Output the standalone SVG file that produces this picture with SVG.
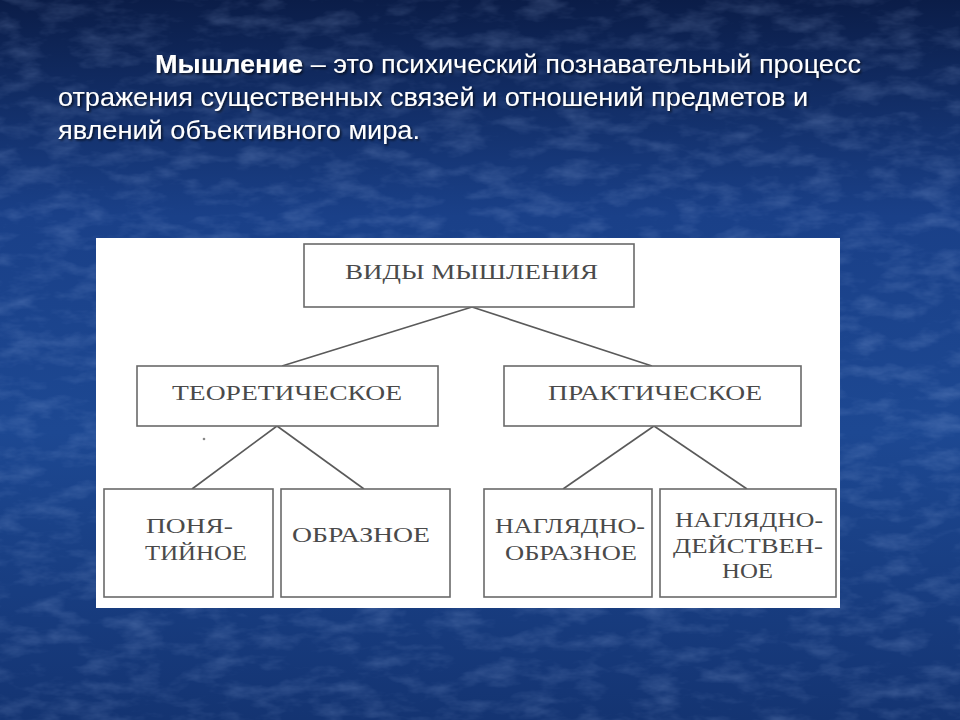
<svg xmlns="http://www.w3.org/2000/svg" width="960" height="720" viewBox="0 0 960 720">
  <defs>
    <linearGradient id="bg" x1="0" y1="0" x2="0" y2="1">
      <stop offset="0" stop-color="#0b1d48"/>
      <stop offset="0.3" stop-color="#1a4088"/>
      <stop offset="0.6" stop-color="#1d4892"/>
      <stop offset="1" stop-color="#143472"/>
    </linearGradient>
    <filter id="tex" x="0" y="0" width="100%" height="100%">
      <feTurbulence type="fractalNoise" baseFrequency="0.025 0.06" numOctaves="4" seed="7" result="n"/>
      <feColorMatrix in="n" type="matrix" values="0 0 0 0 0.5  0 0 0 0 0.65  0 0 0 0 1  0 0 0 1.6 -0.7"/>
    </filter>
    <filter id="sh" x="-5%" y="-30%" width="110%" height="160%">
      <feDropShadow dx="1.5" dy="1.5" stdDeviation="1" flood-color="#000" flood-opacity="0.7"/>
    </filter>
    <style>
      .hd { font-family: "Liberation Sans", Arial, sans-serif; font-size: 25px; fill: #ffffff; }
      .box { fill: #ffffff; stroke: #6a6a6a; stroke-width: 1.6; }
      .lbl { font-family: "Liberation Serif", "Times New Roman", serif; font-size: 22px; fill: #4a4a4a; }
      .con { stroke: #5a5a5a; stroke-width: 1.6; fill: none; }
    </style>
  </defs>

  <rect width="960" height="720" fill="url(#bg)"/>
  <rect width="960" height="720" filter="url(#tex)" opacity="0.25"/>

  <g id="header" filter="url(#sh)">
    <text class="hd" x="155" y="73" textLength="706" lengthAdjust="spacingAndGlyphs"><tspan font-weight="bold">Мышление</tspan> – это психический познавательный процесс</text>
    <text class="hd" x="58" y="106" textLength="750" lengthAdjust="spacingAndGlyphs">отражения существенных связей и отношений предметов и</text>
    <text class="hd" x="58" y="139" textLength="362" lengthAdjust="spacingAndGlyphs">явлений объективного мира.</text>
  </g>

  <rect id="panel" x="96" y="238" width="744" height="370" fill="#ffffff"/>
  <circle cx="204" cy="439" r="1.3" fill="#888"/>

  <g id="connectors" class="con">
    <line x1="472" y1="307" x2="282" y2="366"/>
    <line x1="472" y1="307" x2="652" y2="366"/>
    <line x1="277" y1="426" x2="192" y2="489"/>
    <line x1="277" y1="426" x2="364" y2="489"/>
    <line x1="654" y1="426" x2="563" y2="489"/>
    <line x1="654" y1="426" x2="747" y2="489"/>
  </g>

  <g id="vidy">
    <rect class="box" x="304" y="244" width="330" height="63"/>
    <text class="lbl" x="345" y="279" textLength="253" lengthAdjust="spacingAndGlyphs">ВИДЫ МЫШЛЕНИЯ</text>
  </g>
  <g id="teor">
    <rect class="box" x="137" y="366" width="301" height="60"/>
    <text class="lbl" x="172" y="400" textLength="230" lengthAdjust="spacingAndGlyphs">ТЕОРЕТИЧЕСКОЕ</text>
  </g>
  <g id="prakt">
    <rect class="box" x="504" y="366" width="297" height="60"/>
    <text class="lbl" x="548" y="400" textLength="214" lengthAdjust="spacingAndGlyphs">ПРАКТИЧЕСКОЕ</text>
  </g>
  <g id="ponyat">
    <rect class="box" x="104" y="489" width="169" height="108"/>
    <text class="lbl" x="146" y="533" textLength="87" lengthAdjust="spacingAndGlyphs">ПОНЯ-</text>
    <text class="lbl" x="145" y="560" textLength="102" lengthAdjust="spacingAndGlyphs">ТИЙНОЕ</text>
  </g>
  <g id="obraz">
    <rect class="box" x="281" y="489" width="169" height="108"/>
    <text class="lbl" x="292" y="542" textLength="138" lengthAdjust="spacingAndGlyphs">ОБРАЗНОЕ</text>
  </g>
  <g id="nagl-obraz">
    <rect class="box" x="484" y="489" width="168" height="108"/>
    <text class="lbl" x="495" y="533" textLength="150" lengthAdjust="spacingAndGlyphs">НАГЛЯДНО-</text>
    <text class="lbl" x="505" y="560" textLength="132" lengthAdjust="spacingAndGlyphs">ОБРАЗНОЕ</text>
  </g>
  <g id="nagl-deist">
    <rect class="box" x="660" y="489" width="176" height="108"/>
    <text class="lbl" x="675" y="527" textLength="148" lengthAdjust="spacingAndGlyphs">НАГЛЯДНО-</text>
    <text class="lbl" x="673" y="553" textLength="150" lengthAdjust="spacingAndGlyphs">ДЕЙСТВЕН-</text>
    <text class="lbl" x="722" y="578" textLength="51" lengthAdjust="spacingAndGlyphs">НОЕ</text>
  </g>
</svg>
